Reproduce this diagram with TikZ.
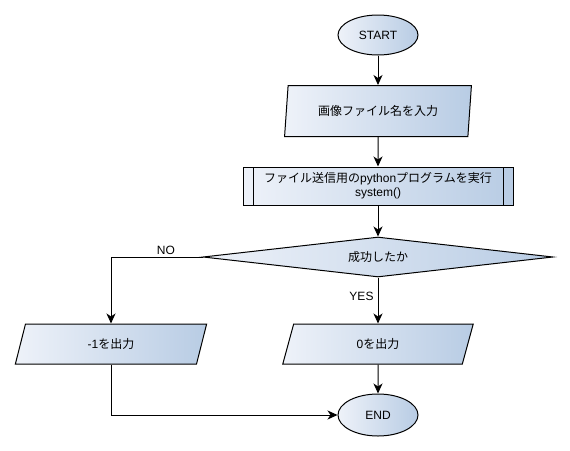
\documentclass[tikz,border=0pt]{standalone}
\usepackage{fontspec}
\setmainfont{Liberation Sans}
\newfontfamily\jp{Noto Sans CJK JP}
\usetikzlibrary{arrows.meta,calc,positioning,shapes.geometric}
\definecolor{fillL}{HTML}{EEF2F9}
\definecolor{fillR}{HTML}{B8CCE4}
\tikzset{
  node-term/.style={draw,ellipse,left color=fillL,right color=fillR,minimum width=80pt,minimum height=40pt,inner sep=0pt,line width=1pt,font=\fontsize{12}{14}\selectfont},
  node-io/.style={draw,trapezium,trapezium left angle=76,trapezium right angle=104,trapezium stretches=true,left color=fillL,right color=fillR,minimum height=40pt,inner sep=0pt,line width=1pt,font=\fontsize{12}{14}\selectfont},
  node-proc/.style={draw,rectangle,left color=fillL,right color=fillR,minimum width=270pt,minimum height=38pt,inner sep=0pt,line width=1pt,align=center,font=\fontsize{12}{14}\selectfont,
    path picture={\draw[line width=1pt] ($(path picture bounding box.north west)+(10pt,0)$) -- ($(path picture bounding box.south west)+(10pt,0)$);
                  \draw[line width=1pt] ($(path picture bounding box.north east)+(-10pt,0)$) -- ($(path picture bounding box.south east)+(-10pt,0)$);}},
  node-dec/.style={draw,diamond,aspect=8.75,left color=fillL,right color=fillR,minimum width=350pt,minimum height=40pt,inner sep=0pt,line width=1pt,font=\fontsize{12}{14}\selectfont},
  flow/.style={-{Stealth[length=10pt,width=9pt,inset=3pt]},line width=1pt},
  lbl/.style={font=\fontsize{12}{14}\selectfont,inner sep=2pt},
}
\begin{document}
\begin{tikzpicture}[x=1pt,y=-1pt]

  \useasboundingbox (0,0) rectangle (570,450);

  % main column
  \node[node-term] (start) at (378,35) {START};
  \node[node-io,minimum width=187pt,minimum height=51pt,trapezium left angle=78,trapezium right angle=102] (fname) at (378,111) {\jp 画像ファイル名を入力};
  \node[node-proc] (send) at (378,186) {{\jp ファイル送信用の}python{\jp プログラムを実行}\\system()};
  \node[node-dec] (ok) at (378,257) {\jp 成功したか};

  % outputs
  \node[node-io,minimum width=192pt] (outng) at (111,344) {-1{\jp を出力}};
  \node[node-io,minimum width=191pt] (outok) at (378,344) {0{\jp を出力}};
  \node[node-term,minimum height=42pt] (end) at (378,415) {END};

  \draw[flow] (start) -- (fname);
  \draw[flow] (fname) -- (send);
  \draw[flow] (send) -- (ok);
  \draw[flow] (ok) -- node[lbl,anchor=east,pos=0.4,xshift=-2pt] {YES} (outok);
  \draw[flow] (ok.west) -| node[lbl,anchor=south,pos=0.2] {NO} (outng.north);
  \draw[flow] (outok) -- (end);
  \draw[flow] (outng.south) |- (end.west);

\end{tikzpicture}
\end{document}
